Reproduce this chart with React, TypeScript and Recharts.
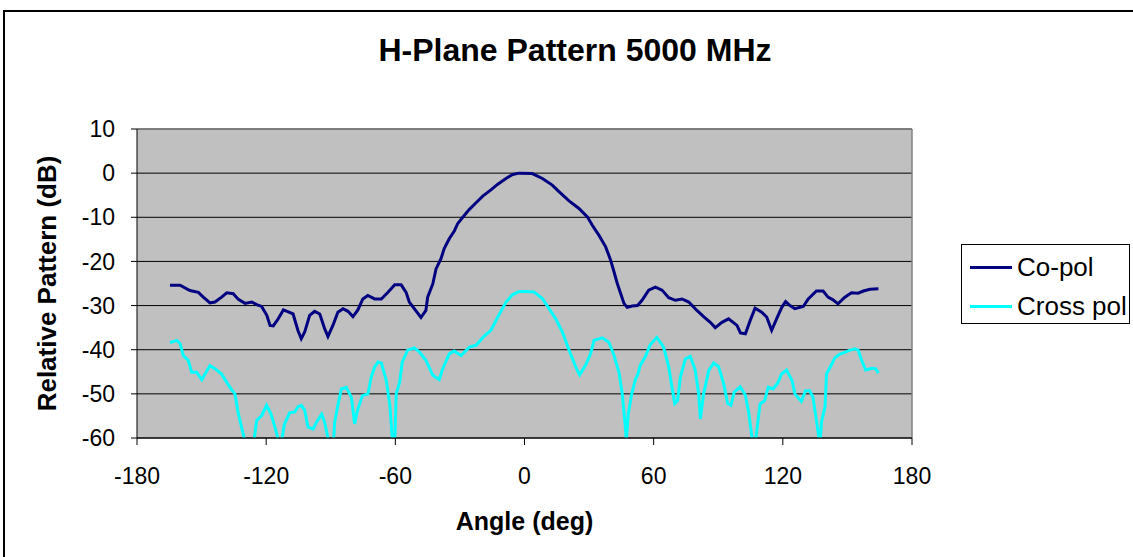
import { LineChart, Line, XAxis, YAxis, CartesianGrid, ReferenceLine, Label } from "recharts"

const FONT = '"Liberation Sans", Arial, sans-serif'

const xTicks = [-180, -120, -60, 0, 60, 120, 180]
const yTicks = [10, 0, -10, -20, -30, -40, -50, -60]
const seriesNames = ["Co-pol", "Cross pol"]
const seriesColors = ["#000080", "#00FFFF"]

const coAngle = [
  -164.7, -160, -155.4, -151.5, -149.2, -146.1, -143.8, -140.7, -138.3, -135.3, -132.9, -129.8,
  -126.7, -124.4, -122.1, -119.7, -118.2, -116.7, -114.4, -112, -107.5, -105.2, -103.7, -102.1,
  -99.8, -97.5, -95.1, -92.8, -91.3, -89, -86.7, -84.3, -82, -79.7, -77.4, -75.1, -72.8, -69.6,
  -66.5, -63.4, -60.3, -57.3, -55, -53.5, -51.2, -48.1, -45.8, -45, -42.6, -41.1, -38.8, -37.3,
  -34.9, -32.6, -31, -28.7, -25.6, -22.5, -19.4, -15.6, -12.4, -8.6, -5.5, -2.5, 3.6, 8.3, 12.9,
  16, 20.7, 25.3, 29.2, 31.5, 34.6, 37.7, 40, 41.6, 43.1, 44.7, 46.2, 47.7, 50, 52.5, 54.6, 57.7,
  60.8, 63.9, 67, 70.1, 73.2, 76.3, 80.1, 83.2, 86.3, 88.6, 91.7, 94.8, 98.7, 100.3, 102.6, 104.9,
  107.1, 110.2, 112.5, 114.8, 117.1, 119.5, 121.3, 123.3, 125.6, 129.5, 131.8, 135.6, 138.7, 141,
  143.3, 145.6, 148.8, 151.9, 155, 157.4, 160.5, 164.4,
]
const coDb = [
  -25.4, -25.4, -26.6, -27.0, -28.1, -29.4, -29.2, -28.1, -27.1, -27.3, -28.6, -29.5,
  -29.2, -29.8, -30.2, -32.2, -34.5, -34.6, -33.0, -31.0, -31.9, -35.7, -37.5, -36.0,
  -32.2, -31.3, -31.9, -35.3, -37.0, -34.5, -31.5, -30.7, -31.3, -32.5, -31.0, -28.5, -27.7, -28.5,
  -28.5, -27.0, -25.3, -25.3, -27.0, -29.2, -30.7, -32.7, -31.1, -28.1, -25.1, -21.7, -19.4, -17.1,
  -14.8, -13.1, -11.4, -10.0, -8.2, -6.7, -5.2, -3.8, -2.5, -1.2, -0.3, 0, -0.1, -1.2, -2.7,
  -4.2, -6.3, -8.0, -9.9, -11.8, -14.1, -16.7, -19.7, -22.4, -25.0, -27.3, -29.5, -30.4, -30.1, -30.0, -28.8, -26.5,
  -25.8, -26.5, -28.2, -28.8, -28.5, -29.2, -31.1, -32.5, -33.8, -35.0, -33.8, -33.0, -34.5, -36.2, -36.4, -33.3,
  -30.6, -31.5, -32.6, -35.6, -33.0, -30.4, -29.1, -30.0, -30.7, -30.2, -28.5, -26.7, -26.7, -28.1,
  -28.7, -29.6, -28.1, -27.1, -27.2, -26.7, -26.3, -26.2,
]

const crossAngle = [
  -164.7, -161.5, -160, -158.5, -156.2, -154.6, -152.3, -149.9, -148.4, -146.1, -143.8, -140.7,
  -138.3, -136, -134.5, -132.9, -131.4, -130.2, -128, -125.5, -124.4, -122.1, -119.8, -117.8,
  -115.9, -114.6, -113.7, -112.6, -111.6, -109.1, -106.7, -105.2, -103.7, -102.1, -100.6, -98.2,
  -96.7, -94.2, -92.8, -91.3, -90, -88.6, -88.2, -86.7, -85.1, -82.8, -80.4, -78.9, -77.8, -75.3,
  -72.7, -71.2, -69.6, -68, -66.5, -64.2, -62.6, -61.4, -60.8, -60.2, -59.6, -58, -56.8, -54.3,
  -51.2, -48.9, -45.8, -42.6, -39.6, -38, -34.9, -32.6, -29.5, -25.6, -22.5, -18.7, -15.6, -12.4,
  -8.6, -5.5, -2.4, 0.6, 4.4, 8.3, 11.4, 14.5, 17.6, 20.7, 23.8, 25.6, 28.4, 30.7, 32.3, 36.1,
  39.2, 41.6, 43.9, 45.4, 46.7, 47.3, 48.2, 49.8, 51.6, 52.5, 53.8, 56.1, 58.4, 61.5, 64.6, 67,
  68.5, 69.8, 71.1, 72.4, 74.7, 77, 79.3, 80.9, 81.7, 83.2, 85.6, 87.9, 90.2, 92.5, 94.4, 95.9,
  97.4, 100.2, 102.6, 104.1, 105.7, 106.5, 107.5, 109.4, 111.6, 113.2, 115.5, 117.8, 119.4, 121.7,
  124.3, 125.6, 128.6, 130.5, 132.5, 134, 135.6, 136.8, 137.3, 138, 139.6, 140.3, 142.7, 144.2,
  146.5, 148.8, 151.2, 153.5, 155, 156.6, 158.5, 161.3, 163.1, 164.4,
]
const crossDb = [
  -38.4, -37.9, -38.6, -41.3, -42.4, -45.1, -45.1, -46.8, -45.5, -43.6, -44.3, -45.5,
  -47.4, -49.1, -50.0, -54.6, -57.6, -60, -64, -60, -56.0, -54.9, -52.6, -54.5,
  -57.6, -60, -62, -60, -57.0, -54.3, -54.1, -52.9, -52.6, -53.7, -57.5, -58.0,
  -56.5, -54.6, -56.5, -60, -64, -60, -56.5, -52.6, -48.9, -48.5, -50.8, -56.8, -54.1, -50.4,
  -50.0, -46.2, -43.9, -42.8, -43.0, -47.0, -52.3, -60, -65, -60, -50, -47.4, -42.8, -40.1,
  -39.6, -40.5, -42.4, -45.8, -46.8, -44.3, -40.9, -40.3, -41.3, -39.4, -39.0, -36.9, -35.6, -32.6,
  -29.2, -27.5, -26.8, -26.8, -26.9, -28.4, -30.7, -33.0, -36.0, -40.1, -43.9, -45.7, -43.5, -40.9, -37.9, -37.3,
  -38.3, -41.3, -45.1, -50.0, -56.8, -60.5, -54.5, -50.0, -46.6, -45.8, -43.5, -41.6, -38.9, -37.2, -39.4, -43.9,
  -48.5, -52.2, -51.5, -46.2, -42.1, -41.5, -44.6, -50.0, -55.7, -50.0, -44.7, -43.0, -43.9, -47.7, -52.2, -52.6,
  -49.6, -48.4, -50.3, -54.1, -60, -63, -60, -52.3, -51.5, -48.5, -48.9, -47.4, -45.5, -44.6,
  -47.0, -50.0, -51.7, -49.3, -49.3, -50.8, -56.0, -60, -61, -56.3, -52.9, -45.5, -43.3, -41.8,
  -41.0, -40.6, -40.1, -39.8, -40.1, -42.4, -44.6, -44.2, -44.3, -45.3,
]

const coData = coAngle.map((angle, i) => ({ angle, value: coDb[i] }))
const crossData = crossAngle.map((angle, i) => ({ angle, value: crossDb[i] }))

export default function App() {
  return (
    <div
      style={{
        position: "fixed", left: 0, top: 0, width: 1133, height: 557,
        background: "#fff", overflow: "hidden", fontFamily: FONT,
      }}
    >
      <div
        style={{
          position: "absolute", left: 3, top: 10, width: 1200, height: 600,
          border: "2px solid #000",
        }}
      />
      <div
        style={{
          position: "absolute", left: 0, top: 32, width: 1150, textAlign: "center",
          fontSize: 32, fontWeight: "bold", color: "#000", lineHeight: "36px",
        }}
      >
        H-Plane Pattern 5000 MHz
      </div>
      <div style={{ position: "absolute", left: 0, top: 0 }}>
        <LineChart width={1133} height={557} margin={{ top: 129, right: 221, bottom: 19, left: 37 }}>
          <CartesianGrid horizontal vertical={false} stroke="#000" fill="#C0C0C0" />
          <XAxis
            type="number"
            dataKey="angle"
            domain={[-180, 180]}
            ticks={xTicks}
            interval={0}
            height={100}
            tickSize={7}
            tickMargin={23}
            tick={{ fill: "#000", fontSize: 23, fontFamily: FONT }}
            axisLine={{ stroke: "#000" }}
            tickLine={{ stroke: "#000" }}
          >
            <Label
              value="Angle (deg)"
              position="insideBottom"
              offset={8}
              style={{ fontSize: 25, fontWeight: "bold", fill: "#000", fontFamily: FONT }}
            />
          </XAxis>
          <YAxis
            type="number"
            domain={[-60, 10]}
            ticks={yTicks}
            interval={0}
            allowDataOverflow
            width={100}
            tickSize={6}
            tickMargin={16}
            tick={{ fill: "#000", fontSize: 23, fontFamily: FONT }}
            axisLine={{ stroke: "#000" }}
            tickLine={{ stroke: "#000" }}
          >
            <Label
              value="Relative Pattern (dB)"
              angle={-90}
              position="insideLeft"
              offset={10}
              style={{ fontSize: 26, fontWeight: "bold", fill: "#000", fontFamily: FONT, textAnchor: "middle" }}
            />
          </YAxis>
          <ReferenceLine y={10} stroke="#808080" strokeWidth={1.5} />
          <ReferenceLine x={180} stroke="#808080" strokeWidth={1.5} />
          <Line
            data={coData}
            dataKey="value"
            name={seriesNames[0]}
            type="linear"
            stroke={seriesColors[0]}
            strokeWidth={3}
            dot={false}
            isAnimationActive={false}
          />
          <Line
            data={crossData}
            dataKey="value"
            name={seriesNames[1]}
            type="linear"
            stroke={seriesColors[1]}
            strokeWidth={3}
            dot={false}
            isAnimationActive={false}
          />
        </LineChart>
      </div>
      <div
        style={{
          position: "absolute", left: 961, top: 244, width: 169, height: 80,
          border: "1px solid #000", background: "#fff", boxSizing: "border-box",
        }}
      >
        {seriesNames.map((name, i) => (
          <div
            key={name}
            style={{ position: "absolute", left: 8, top: 7 + i * 39, height: 30, display: "flex", alignItems: "center" }}
          >
            <div style={{ width: 42, height: 3, background: seriesColors[i], marginRight: 5 }} />
            <span style={{ fontSize: 26, color: "#000", whiteSpace: "nowrap" }}>{name}</span>
          </div>
        ))}
      </div>
    </div>
  )
}
